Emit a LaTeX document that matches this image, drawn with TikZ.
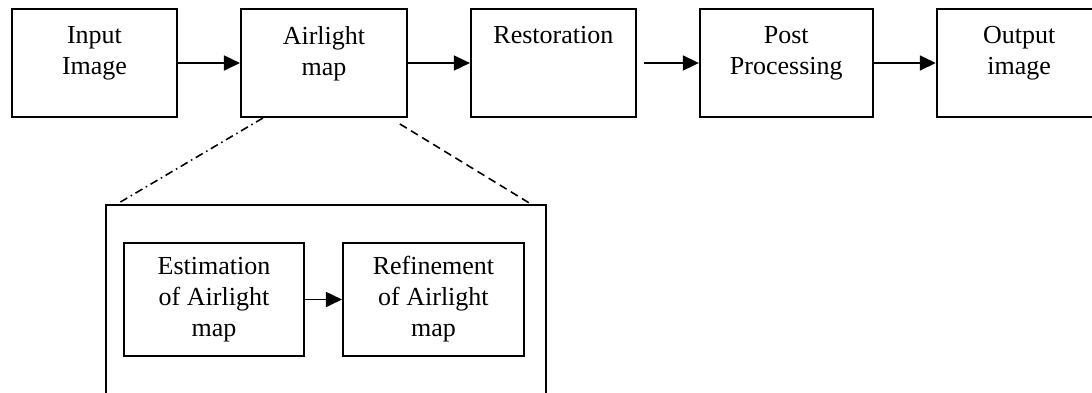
\documentclass[tikz,border=0pt]{standalone}
\usepackage{fontspec}
\setmainfont{Liberation Serif}
\usetikzlibrary{arrows.meta, positioning, calc}

\begin{document}
\begin{tikzpicture}[
  blk/.style={rectangle, draw, line width=1.1pt, minimum width=3.3cm, minimum height=2.16cm, inner sep=0pt},
  lbl/.style={anchor=north, align=center, inner sep=0pt, font=\fontsize{14.8pt}{17.6pt}\selectfont},
  sub/.style={rectangle, draw, line width=1.1pt, minimum width=3.6cm, minimum height=2.26cm, inner sep=0pt, align=center, font=\fontsize{14.8pt}{17.6pt}\selectfont},
  flow/.style={-{Triangle[length=0.32cm, width=0.3cm]}, line width=1pt},
  zoomline/.style={line width=0.9pt},
  >=Stealth
]
  \clip (0,0) rectangle (21.84,-7.84);

  % Main chain
  \node[blk] (inp) at (1.89,-1.26) {};
  \node[blk, minimum width=3.32cm, right=1.24cm of inp] (air) {};
  \node[blk, right=1.24cm of air] (res) {};
  \node[blk, minimum width=3.46cm, right=1.24cm of res] (post) {};
  \node[blk, right=1.24cm of post] (out) {};

  % Box texts (top aligned)
  \node[lbl] (inp-t) at ($(inp.north)+(0,-0.36)$) {Input\\Image};
  \node[lbl] (air-t) at ($(air.north)+(0,-0.36)$) {Airlight\\map};
  \node[lbl] (res-t) at ($(res.north)+(0,-0.36)$) {Restoration};
  \node[lbl] (post-t) at ($(post.north)+(0,-0.36)$) {Post\\Processing};
  \node[lbl] (out-t) at ($(out.north)+(0,-0.36)$) {Output\\image};

  % Arrows
  \draw[flow] (inp) -- (air);
  \draw[flow] (air) -- (res);
  \draw[flow, shorten <=0.14cm] (res) -- (post);
  \draw[flow] (post) -- (out);

  % Detail of the airlight map
  \node[draw, line width=1.1pt, minimum width=8.8cm, minimum height=3.9cm, inner sep=0pt] (zoom) at (6.52,-6.05) {};
  \node[sub] (est) at (4.28,-5.99) {Estimation\\of Airlight\\map};
  \node[sub, minimum width=3.62cm, right=0.74cm of est] (ref) {Refinement\\of Airlight\\map};
  \draw[flow] (est) -- (ref);

  \draw[zoomline, dash pattern=on 0.16cm off 0.08cm on 0.03cm off 0.08cm]
    ($(air.south west)+(0.46,0)$) -- ($(zoom.north west)+(0.24,0)$);
  \draw[zoomline, dash pattern=on 0.16cm off 0.1cm]
    ($(air.south east)+(-0.16,-0.12)$) -- ($(zoom.north east)+(-0.32,0)$);
\end{tikzpicture}
\end{document}
